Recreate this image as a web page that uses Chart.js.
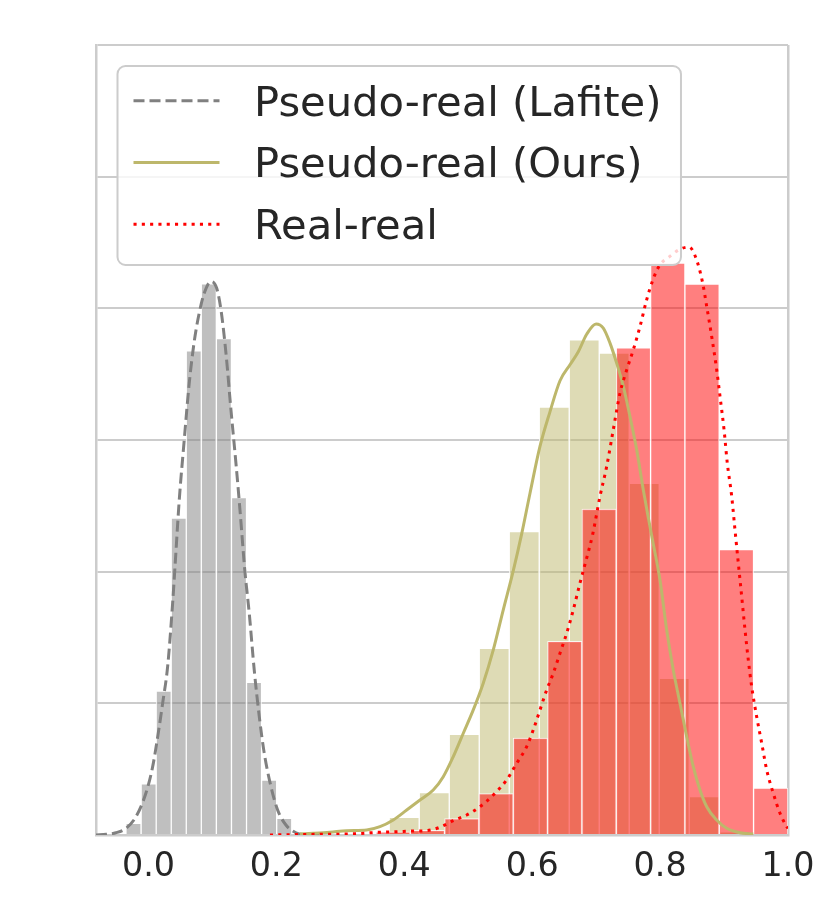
<!DOCTYPE html>
<html>
<head>
<meta charset="utf-8">
<script src="https://cdn.jsdelivr.net/npm/chart.js@4.4.0/dist/chart.umd.min.js"></script>
<style>
  html, body { margin: 0; padding: 0; background: #ffffff; }
  #wrap { width: 830px; height: 900px; }
</style>
</head>
<body>
<div id="wrap"><canvas id="c" width="830" height="900"></canvas></div>
<script>
// ---------- data ----------
const seriesLabels = ['Pseudo-real (Lafite)', 'Pseudo-real (Ours)', 'Real-real'];
const xTickValues = [0.0, 0.2, 0.4, 0.6, 0.8, 1.0];
const xTickLabels = ['0.0', '0.2', '0.4', '0.6', '0.8', '1.0'];

// histogram: Pseudo-real (Lafite)
const lafiteBinWidth = 0.0236;
const lafiteBinCenters = [-0.0234, 0.0004, 0.0239, 0.0474, 0.0709, 0.0944, 0.1180, 0.1416, 0.1651, 0.1887, 0.2123];
const lafiteBinHeights = [0.089, 0.388, 1.094, 2.407, 3.678, 4.187, 3.771, 2.563, 1.160, 0.418, 0.127];

// histogram: Pseudo-real (Ours)
const oursBinWidth = 0.0469;
const oursBinCenters = [0.3999, 0.4469, 0.4938, 0.5407, 0.5876, 0.6345, 0.6814, 0.7283, 0.7752, 0.8221, 0.8691, 0.9160];
const oursBinHeights = [0.134, 0.322, 0.765, 1.418, 2.305, 3.250, 3.760, 3.660, 2.670, 1.190, 0.291, 0.025];

// histogram: Real-real
const realBinWidth = 0.0537;
const realBinCenters = [0.3825, 0.4362, 0.4899, 0.5436, 0.5972, 0.6509, 0.7046, 0.7583, 0.8120, 0.8656, 0.9193, 0.9730];
const realBinHeights = [0.025, 0.035, 0.125, 0.315, 0.737, 1.470, 2.475, 3.700, 4.344, 4.184, 2.167, 0.356];

// density curves
const lafiteKdeX = [-0.082, -0.066, -0.051, -0.035, -0.0195, -0.0039, 0.0066, 0.0169, 0.0222, 0.0300, 0.0378, 0.0419, 0.0482, 0.0560, 0.0638, 0.0716, 0.0794, 0.0873, 0.0977, 0.1066, 0.1134, 0.1212, 0.1290, 0.1368, 0.1431, 0.1506, 0.1576, 0.1654, 0.1733, 0.1811, 0.1916, 0.2020, 0.2150, 0.2306, 0.2463, 0.2700];
const lafiteKdeY = [0.000, 0.005, 0.017, 0.051, 0.139, 0.319, 0.519, 0.823, 1.001, 1.279, 1.760, 2.067, 2.546, 3.002, 3.432, 3.748, 3.964, 4.116, 4.204, 4.154, 3.989, 3.660, 3.229, 2.824, 2.470, 2.014, 1.685, 1.254, 0.899, 0.621, 0.367, 0.190, 0.076, 0.017, 0.003, 0.000];

const oursKdeX = [0.2369, 0.2577, 0.2838, 0.3099, 0.3412, 0.3620, 0.3828, 0.4038, 0.4246, 0.4453, 0.4610, 0.4766, 0.4923, 0.5079, 0.5235, 0.5392, 0.5548, 0.5704, 0.5836, 0.5966, 0.6122, 0.6278, 0.6435, 0.6591, 0.6721, 0.6852, 0.6998, 0.7112, 0.7217, 0.7321, 0.7425, 0.7529, 0.7634, 0.7737, 0.7816, 0.7884, 0.7998, 0.8103, 0.8206, 0.8311, 0.8416, 0.8519, 0.8624, 0.8729, 0.8885, 0.9041, 0.9249, 0.9457];
const oursKdeY = [0.008, 0.013, 0.021, 0.033, 0.038, 0.063, 0.114, 0.190, 0.266, 0.342, 0.443, 0.595, 0.773, 0.950, 1.153, 1.406, 1.710, 2.006, 2.287, 2.596, 2.951, 3.214, 3.450, 3.571, 3.670, 3.803, 3.881, 3.850, 3.736, 3.584, 3.407, 3.179, 2.926, 2.622, 2.409, 2.234, 1.938, 1.558, 1.254, 1.001, 0.747, 0.519, 0.342, 0.215, 0.114, 0.051, 0.017, 0.008];

const realKdeX = [0.190, 0.237, 0.315, 0.362, 0.388, 0.414, 0.435, 0.4558, 0.4766, 0.4976, 0.5184, 0.5392, 0.5601, 0.5758, 0.5914, 0.6017, 0.6122, 0.6227, 0.6330, 0.6435, 0.6540, 0.6643, 0.6747, 0.6852, 0.6946, 0.7060, 0.7165, 0.7268, 0.7373, 0.7478, 0.7581, 0.7686, 0.7790, 0.7894, 0.7998, 0.8140, 0.8296, 0.8452, 0.8561, 0.8666, 0.8729, 0.8807, 0.8885, 0.8937, 0.9000, 0.9051, 0.9120, 0.9171, 0.9223, 0.9276, 0.9328, 0.9379, 0.9432, 0.9510, 0.9589, 0.9667, 0.9770, 0.9875, 0.9980, 1.0000];
const realKdeY = [0.000, 0.004, 0.008, 0.021, 0.025, 0.030, 0.033, 0.059, 0.109, 0.152, 0.215, 0.304, 0.418, 0.545, 0.671, 0.798, 0.950, 1.102, 1.229, 1.381, 1.533, 1.710, 1.913, 2.103, 2.283, 2.571, 2.799, 3.078, 3.356, 3.533, 3.685, 3.862, 4.065, 4.225, 4.331, 4.390, 4.445, 4.466, 4.382, 4.192, 4.014, 3.786, 3.533, 3.331, 3.078, 2.824, 2.571, 2.318, 2.065, 1.811, 1.558, 1.330, 1.127, 0.899, 0.697, 0.494, 0.317, 0.165, 0.063, 0.050];

// ---------- helpers ----------
const zipXY = (xs, ys) => xs.map((x, i) => ({ x: x, y: ys[i] }));

const FONT = '"DejaVu Sans", "Liberation Sans", sans-serif';
const TEXT_COLOR = '#262626';
const FRAME_COLOR = '#cccccc';

// legend drawn inside the plot, on top of the data (matplotlib style frame)
const boxLegend = {
  id: 'boxLegend',
  afterDraw(chart) {
    const ctx = chart.ctx;
    const area = chart.chartArea;
    const items = chart.data.datasets.filter(d => d.type === 'line');
    const fontSize = 41.67;
    ctx.save();
    ctx.font = fontSize + 'px ' + FONT;
    const textW = Math.max.apply(null, items.map(d => ctx.measureText(d.label).width));
    const boxL = area.left + 21.5;
    const boxT = area.top + 21;
    const sampleL = boxL + 16;
    const sampleW = 86;
    const textX = sampleL + sampleW + 34.5;
    const boxR = textX + textW + 19.5;
    const boxB = boxT + 199;
    const firstRow = boxT + 34.7;
    const rowH = 61.8;
    const r = 8;
    ctx.beginPath();
    ctx.moveTo(boxL + r, boxT);
    ctx.lineTo(boxR - r, boxT);
    ctx.arcTo(boxR, boxT, boxR, boxT + r, r);
    ctx.lineTo(boxR, boxB - r);
    ctx.arcTo(boxR, boxB, boxR - r, boxB, r);
    ctx.lineTo(boxL + r, boxB);
    ctx.arcTo(boxL, boxB, boxL, boxB - r, r);
    ctx.lineTo(boxL, boxT + r);
    ctx.arcTo(boxL, boxT, boxL + r, boxT, r);
    ctx.closePath();
    ctx.fillStyle = 'rgba(255,255,255,0.8)';
    ctx.fill();
    ctx.lineWidth = 2;
    ctx.strokeStyle = FRAME_COLOR;
    ctx.stroke();
    items.forEach((d, i) => {
      const y = firstRow + i * rowH;
      ctx.beginPath();
      ctx.setLineDash(d.borderDash || []);
      ctx.lineCap = 'butt';
      ctx.lineWidth = d.borderWidth;
      ctx.strokeStyle = d.borderColor;
      ctx.moveTo(sampleL, y);
      ctx.lineTo(sampleL + sampleW, y);
      ctx.stroke();
      ctx.setLineDash([]);
      ctx.fillStyle = TEXT_COLOR;
      ctx.textAlign = 'left';
      ctx.textBaseline = 'alphabetic';
      ctx.fillText(d.label, textX, y + 14.8);
    });
    ctx.restore();
  }
};

const datasets = [
  {
    type: 'line', label: seriesLabels[0], data: zipXY(lafiteKdeX, lafiteKdeY),
    borderColor: 'rgb(128,128,128)', borderWidth: 3, borderDash: [11, 5],
    pointRadius: 0, fill: false, cubicInterpolationMode: 'monotone', order: 3
  },
  {
    type: 'line', label: seriesLabels[1], data: zipXY(oursKdeX, oursKdeY),
    borderColor: 'rgb(189,183,107)', borderWidth: 3,
    pointRadius: 0, fill: false, cubicInterpolationMode: 'monotone', order: 2
  },
  {
    type: 'line', label: seriesLabels[2], data: zipXY(realKdeX, realKdeY),
    borderColor: 'rgb(255,0,0)', borderWidth: 3, borderDash: [3.1, 5.2],
    pointRadius: 0, fill: false, cubicInterpolationMode: 'monotone', order: 1
  },
  {
    type: 'bar', label: seriesLabels[0], data: zipXY(lafiteBinCenters, lafiteBinHeights),
    backgroundColor: 'rgba(128,128,128,0.5)', borderColor: 'rgba(255,255,255,0.8)', borderWidth: 1,
    grouped: false, binWidth: lafiteBinWidth, order: 6
  },
  {
    type: 'bar', label: seriesLabels[1], data: zipXY(oursBinCenters, oursBinHeights),
    backgroundColor: 'rgba(189,183,107,0.5)', borderColor: 'rgba(255,255,255,0.8)', borderWidth: 1,
    grouped: false, binWidth: oursBinWidth, order: 5
  },
  {
    type: 'bar', label: seriesLabels[2], data: zipXY(realBinCenters, realBinHeights),
    backgroundColor: 'rgba(255,0,0,0.5)', borderColor: 'rgba(255,255,255,0.8)', borderWidth: 1,
    grouped: false, binWidth: realBinWidth, order: 4
  }
];

const chart = new Chart(document.getElementById('c'), {
  type: 'bar',
  data: { datasets: datasets },
  options: {
    responsive: false,
    animation: false,
    devicePixelRatio: 1,
    layout: { padding: { left: 96, top: 45, right: 42, bottom: 0 } },
    plugins: {
      legend: { display: false },
      tooltip: { enabled: false }
    },
    scales: {
      x: {
        type: 'linear',
        min: -0.082,
        max: 1.0,
        offset: false,
        afterBuildTicks: (scale) => { scale.ticks = xTickValues.map(v => ({ value: v })); },
        grid: {
          offset: false,
          drawTicks: false,
          lineWidth: 2.5,
          color: (c) => (c.tick && Math.abs(c.tick.value - 1.0) < 1e-9) ? FRAME_COLOR : 'rgba(0,0,0,0)'
        },
        border: { display: true, color: FRAME_COLOR, width: 2.5 },
        ticks: {
          autoSkip: false,
          maxRotation: 0,
          padding: 12.5,
          color: TEXT_COLOR,
          font: { family: FONT, size: 33.33 },
          callback: (value) => {
            const i = xTickValues.findIndex(v => Math.abs(v - value) < 1e-9);
            return i >= 0 ? xTickLabels[i] : '';
          }
        }
      },
      y: {
        min: 0,
        max: 6,
        ticks: { display: false, stepSize: 1 },
        grid: { color: FRAME_COLOR, lineWidth: 2, drawTicks: false },
        border: { display: true, color: FRAME_COLOR, width: 2.5 }
      }
    }
  },
  plugins: [boxLegend]
});

// bar thickness = bin width measured through the x scale
const xs = chart.scales.x;
chart.data.datasets.forEach(d => {
  if (d.type === 'bar') {
    d.barThickness = xs.getPixelForValue(d.binWidth) - xs.getPixelForValue(0);
  }
});
chart.update();
</script>
</body>
</html>
